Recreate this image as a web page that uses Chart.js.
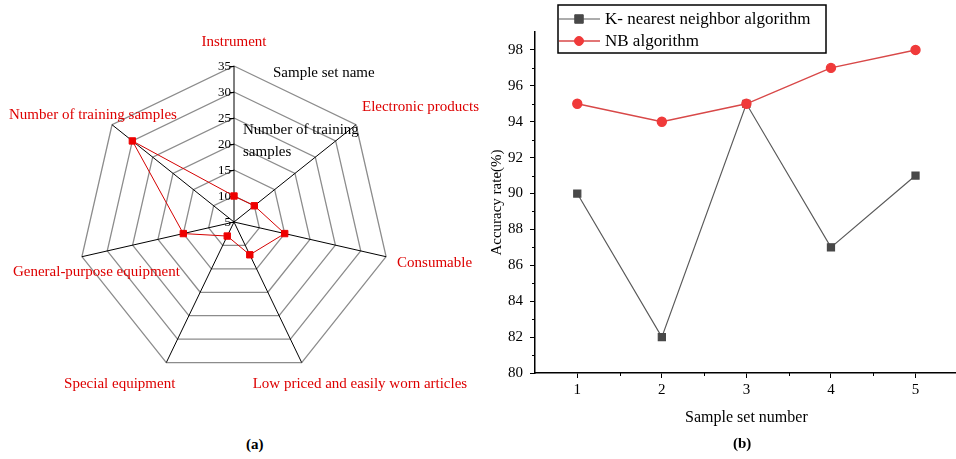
<!DOCTYPE html>
<html>
<head>
<meta charset="utf-8">
<script src="https://cdn.jsdelivr.net/npm/chart.js@4.4.0/dist/chart.umd.min.js"></script>
<style>
  html, body { margin: 0; padding: 0; background: #fff; overflow: hidden; }
  body { width: 956px; height: 459px; position: relative; }
  canvas { position: absolute; }
  #radarChart { left: 0; top: 0; }
  #lineChart { left: 480px; top: 0; }
  .cap { position: absolute; font: bold 15px "Liberation Serif", serif; line-height: 18px; }
</style>
</head>
<body>
<canvas id="radarChart" width="480" height="430"></canvas>
<canvas id="lineChart" width="484" height="459"></canvas>
<div class="cap" style="left:246px; top:435px;">(a)</div>
<div class="cap" style="left:733px; top:434px;">(b)</div>
<script>
// (a) radar
const radarCategories = ['Instrument', 'Electronic products', 'Consumable',
    'Low priced and easily worn articles', 'Special equipment',
    'General-purpose equipment', 'Number of training samples'];
const radarValues = [10, 10, 15, 12, 8, 15, 30];
const radarTicks = [5, 10, 15, 20, 25, 30, 35];

// (b) accuracy
const sampleSets = [1, 2, 3, 4, 5];
const knnAccuracy = [90, 82, 95, 87, 91];
const nbAccuracy = [95, 94, 95, 97, 98];
const accuracyTicks = [80, 82, 84, 86, 88, 90, 92, 94, 96, 98];
const accuracyMinor = [81, 83, 85, 87, 89, 91, 93, 95, 97];
const sampleMinor = [1.5, 2.5, 3.5, 4.5];

const serif = '"Liberation Serif", "Times New Roman", serif';

// where each category name sits relative to its outer vertex
const labelPlacement = [
    { dx: 0, dy: -24, align: 'center' },
    { dx: 6, dy: -18, align: 'left' },
    { dx: 11, dy: 6, align: 'left' },
    { dx: -49, dy: 22, align: 'left' },
    { dx: 9, dy: 22, align: 'right' },
    { dx: -69, dy: 15, align: 'left' },
    { dx: -103, dy: -10, align: 'left' }
];

const radarText = {
    id: 'radarText',
    beforeDatasetsDraw(chart) {
        const ctx = chart.ctx, r = chart.scales.r;
        ctx.save();
        ctx.textBaseline = 'middle';
        ctx.font = '13px ' + serif;
        ctx.fillStyle = '#000';
        ctx.strokeStyle = '#000';
        ctx.lineWidth = 1;
        ctx.textAlign = 'right';
        radarTicks.forEach(v => {
            const y = Math.round(r.yCenter - r.getDistanceFromCenterForValue(v)) + 0.5;
            ctx.beginPath();
            ctx.moveTo(r.xCenter - 4, y);
            ctx.lineTo(r.xCenter, y);
            ctx.stroke();
            ctx.fillText(String(v), r.xCenter - 3, y);
        });
        ctx.font = '15px ' + serif;
        ctx.textAlign = 'left';
        ctx.fillText('Sample set name', r.xCenter + 39, r.yCenter - 149);
        ctx.fillText('Number of training', r.xCenter + 9, r.yCenter - 92);
        ctx.fillText('samples', r.xCenter + 9, r.yCenter - 70);
        ctx.restore();
    },
    afterDraw(chart) {
        const ctx = chart.ctx, r = chart.scales.r;
        ctx.save();
        ctx.textBaseline = 'middle';
        ctx.font = '15px ' + serif;
        ctx.fillStyle = '#dd0000';
        radarCategories.forEach((name, i) => {
            const p = r.getPointPosition(i, r.drawingArea);
            const pl = labelPlacement[i];
            ctx.textAlign = pl.align;
            ctx.fillText(name, p.x + pl.dx, p.y + pl.dy);
        });
        ctx.restore();
    }
};

new Chart(document.getElementById('radarChart'), {
    type: 'radar',
    data: {
        labels: radarCategories,
        datasets: [{
            label: 'Number of training samples',
            data: radarValues,
            borderColor: '#d40000',
            borderWidth: 1,
            fill: false,
            pointStyle: 'rect',
            pointRadius: 4.5,
            pointBackgroundColor: '#ee0000',
            pointBorderColor: '#ee0000'
        }]
    },
    options: {
        responsive: false,
        animation: false,
        layout: { padding: { left: 78, right: 90, top: 66, bottom: 52 } },
        plugins: { legend: { display: false }, tooltip: { enabled: false } },
        scales: {
            r: {
                min: 5,
                max: 35,
                ticks: { stepSize: 5, display: false },
                pointLabels: { display: false },
                angleLines: { color: '#000', lineWidth: 1 },
                grid: { color: '#8c8c8c', lineWidth: 1.3 }
            }
        }
    },
    plugins: [radarText]
});

// (b) legend in a frame + minor ticks
const boxedLegend = {
    id: 'boxedLegend',
    afterDraw(chart) {
        const ctx = chart.ctx;
        const bx = 78, by = 5, bw = 268, bh = 48;
        ctx.save();
        ctx.strokeStyle = '#000';
        ctx.lineWidth = 1.5;
        ctx.strokeRect(bx, by, bw, bh);
        ctx.font = '17px ' + serif;
        ctx.textBaseline = 'middle';
        ctx.textAlign = 'left';
        chart.data.datasets.forEach((ds, i) => {
            const cy = by + 14 + i * 22;
            ctx.strokeStyle = ds.borderColor;
            ctx.lineWidth = ds.borderWidth;
            ctx.beginPath();
            ctx.moveTo(bx + 1, cy);
            ctx.lineTo(bx + 42, cy);
            ctx.stroke();
            ctx.fillStyle = ds.pointBackgroundColor;
            ctx.strokeStyle = ds.pointBorderColor;
            ctx.lineWidth = 1;
            const rad = ds.pointStyle === 'rect' ? ds.pointRadius + 1 : ds.pointRadius;
            Chart.helpers.drawPoint(ctx, { pointStyle: ds.pointStyle, radius: rad, borderWidth: 1 }, bx + 21, cy);
            ctx.fillStyle = '#000';
            ctx.fillText(ds.label, bx + 47, cy + 1);
        });
        ctx.restore();
    }
};

const minorTicks = {
    id: 'minorTicks',
    afterDraw(chart) {
        const { ctx, scales: { x, y } } = chart;
        ctx.save();
        ctx.strokeStyle = '#000';
        ctx.lineWidth = 1;
        accuracyMinor.forEach(v => {
            const py = Math.round(y.getPixelForValue(v)) + 0.5;
            ctx.beginPath();
            ctx.moveTo(y.right - 3, py);
            ctx.lineTo(y.right, py);
            ctx.stroke();
        });
        sampleMinor.forEach(v => {
            const px = Math.round(x.getPixelForValue(v)) + 0.5;
            ctx.beginPath();
            ctx.moveTo(px, x.top);
            ctx.lineTo(px, x.top + 3);
            ctx.stroke();
        });
        ctx.restore();
    }
};

new Chart(document.getElementById('lineChart'), {
    type: 'line',
    data: {
        datasets: [{
            label: 'K- nearest neighbor algorithm',
            data: sampleSets.map((s, i) => ({ x: s, y: knnAccuracy[i] })),
            borderColor: '#5a5a5a',
            borderWidth: 1.2,
            pointStyle: 'rect',
            pointRadius: 5,
            pointBackgroundColor: '#484848',
            pointBorderColor: '#484848',
            order: 2
        }, {
            label: 'NB algorithm',
            data: sampleSets.map((s, i) => ({ x: s, y: nbAccuracy[i] })),
            borderColor: '#d84848',
            borderWidth: 1.4,
            pointStyle: 'circle',
            pointRadius: 4.5,
            pointBackgroundColor: '#f03a3a',
            pointBorderColor: '#f03a3a',
            order: 1
        }]
    },
    options: {
        responsive: false,
        animation: false,
        layout: { padding: { top: 32, left: 0, right: 0, bottom: 0 } },
        plugins: { legend: { display: false }, tooltip: { enabled: false } },
        scales: {
            x: {
                type: 'linear',
                min: 0.5,
                max: 5.5,
                afterBuildTicks: s => { s.ticks = sampleSets.map(v => ({ value: v })); },
                afterFit: s => { s.height = 86; },
                grid: { drawOnChartArea: false, tickLength: 5, tickColor: '#000' },
                border: { color: '#000', width: 1.5 },
                ticks: { font: { family: serif, size: 15 }, color: '#000', padding: 3 },
                title: {
                    display: true,
                    text: 'Sample set number',
                    font: { family: serif, size: 16 },
                    color: '#000',
                    padding: { top: 0, bottom: 32 }
                }
            },
            y: {
                min: 80,
                max: 99,
                afterBuildTicks: s => { s.ticks = accuracyTicks.map(v => ({ value: v })); },
                afterFit: s => { s.width = 55; },
                grid: { drawOnChartArea: false, tickLength: 5, tickColor: '#000' },
                border: { color: '#000', width: 1.5 },
                ticks: { font: { family: serif, size: 15 }, color: '#000', padding: 7 },
                title: {
                    display: true,
                    text: 'Accuracy rate(%)',
                    font: { family: serif, size: 15 },
                    color: '#000',
                    padding: { top: 8, bottom: 0 }
                }
            }
        }
    },
    plugins: [boxedLegend, minorTicks]
});
</script>
</body>
</html>
